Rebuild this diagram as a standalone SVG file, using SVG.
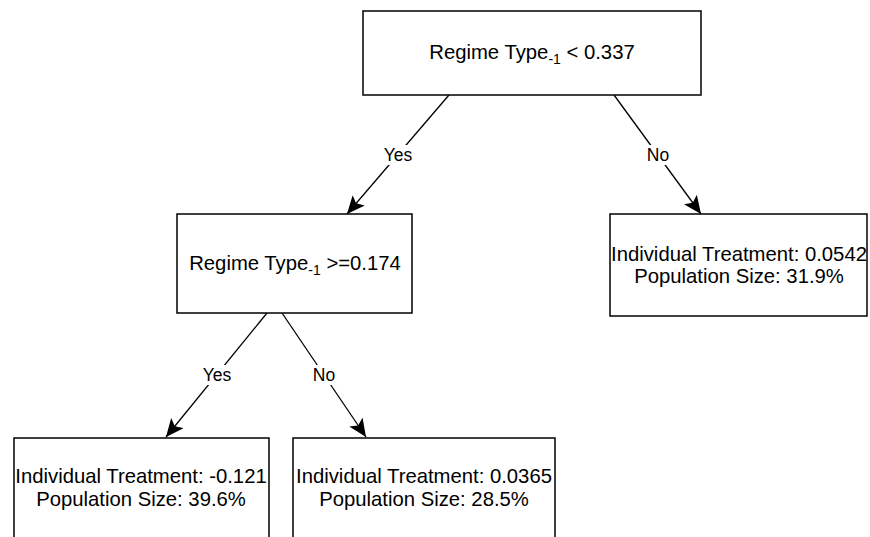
<svg xmlns="http://www.w3.org/2000/svg" width="870" height="537" viewBox="0 0 870 537">
<style>
.box{fill:#fff;stroke:#000;stroke-width:1.5}
.t{font-family:"Liberation Sans",Arial,sans-serif;font-size:20.3px;fill:#000;text-anchor:middle}
.sub{font-size:14px}
.edge{stroke:#000;stroke-width:1.3;fill:none;marker-end:url(#arr)}
.lbl{font-family:"Liberation Sans",Arial,sans-serif;font-size:17.5px;fill:#000;text-anchor:middle}
.lb{fill:#fff}
</style>
<defs>
<marker id="arr" markerUnits="userSpaceOnUse" markerWidth="20" markerHeight="16" viewBox="0 0 20 16" refX="18" refY="8" orient="auto">
<path d="M0,0 L18,8 L0,16 L4,8 z" fill="#000"/>
</marker>
</defs>
<rect width="870" height="537" fill="#fff"/>
<g id="connectors">
<line class="edge" x1="449" y1="95" x2="347" y2="214"/>
<line class="edge" x1="614" y1="95" x2="701" y2="214"/>
<line class="edge" x1="267" y1="313" x2="166" y2="437"/>
<line class="edge" x1="282" y1="313" x2="366" y2="437"/>
<rect class="lb" x="382" y="145" width="32" height="20"/>
<text class="lbl" x="398" y="161">Yes</text>
<rect class="lb" x="646" y="145" width="24" height="20"/>
<text class="lbl" x="658" y="161">No</text>
<rect class="lb" x="201" y="365" width="32" height="20"/>
<text class="lbl" x="217" y="381">Yes</text>
<rect class="lb" x="312" y="365" width="24" height="20"/>
<text class="lbl" x="324" y="381">No</text>
</g>
<g id="root">
<rect class="box" x="363" y="11" width="338" height="84"/>
<text class="t" x="532" y="59">Regime Type<tspan class="sub" dy="5">-1</tspan><tspan dy="-5"> &lt; 0.337</tspan></text>
</g>
<g id="mid">
<rect class="box" x="177" y="214" width="235" height="99"/>
<text class="t" x="295" y="270">Regime Type<tspan class="sub" dy="5">-1</tspan><tspan dy="-5"> &gt;=0.174</tspan></text>
</g>
<g id="leafRight">
<rect class="box" x="610" y="214" width="257" height="102"/>
<text class="t" x="739" y="261">Individual Treatment: 0.0542</text>
<text class="t" x="739" y="283">Population Size: 31.9%</text>
</g>
<g id="leafLeft">
<rect class="box" x="14" y="438" width="255" height="102"/>
<text class="t" x="141" y="483">Individual Treatment: -0.121</text>
<text class="t" x="141" y="506">Population Size: 39.6%</text>
</g>
<g id="leafMid">
<rect class="box" x="293" y="438" width="262" height="102"/>
<text class="t" x="424" y="483">Individual Treatment: 0.0365</text>
<text class="t" x="424" y="506">Population Size: 28.5%</text>
</g>
</svg>
